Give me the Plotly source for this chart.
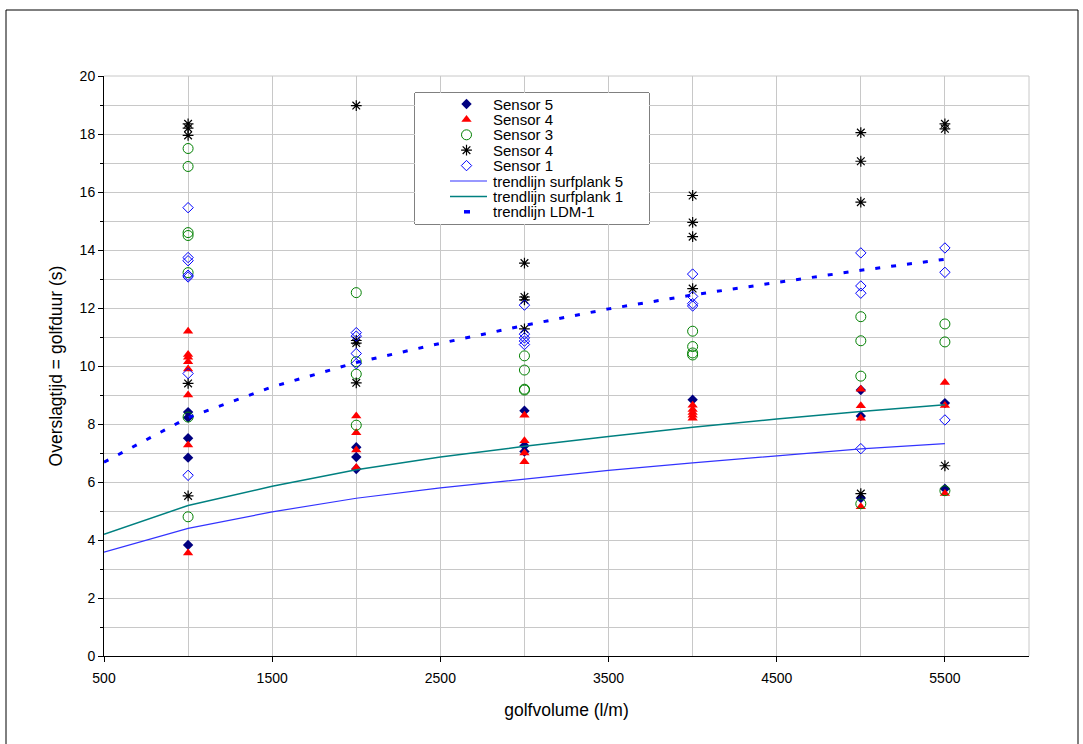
import plotly.graph_objects as go

# Measured overtopping durations per sensor (golfvolume in l/m, duration in s)
s5_x = [1000, 1000, 1000, 1000, 1000, 2000, 2000, 2000, 3000, 3000, 3000, 4000, 5000, 5000, 5000, 5500, 5500]
s5_y = [8.41, 8.22, 7.51, 6.84, 3.83, 7.20, 6.86, 6.45, 8.46, 7.25, 7.05, 8.84, 9.17, 8.28, 5.45, 8.72, 5.77]

s4_x = [1000, 1000, 1000, 1000, 1000, 1000, 1000, 1000, 2000, 2000, 2000, 2000, 3000, 3000, 3000, 3000,
        4000, 4000, 4000, 4000, 4000, 5000, 5000, 5000, 5000, 5500, 5500, 5500]
s4_y = [11.20, 10.40, 10.30, 10.15, 9.90, 9.00, 7.28, 3.55, 8.28, 7.70, 7.10, 6.50, 8.30, 7.42, 7.00, 6.70,
        8.65, 8.50, 8.40, 8.30, 8.20, 9.20, 8.63, 8.20, 5.15, 9.43, 8.64, 5.60]

s3_x = [1000, 1000, 1000, 1000, 1000, 1000, 1000, 2000, 2000, 2000, 2000, 3000, 3000, 3000, 3000,
        4000, 4000, 4000, 4000, 5000, 5000, 5000, 5000, 5500, 5500, 5500]
s3_y = [17.50, 16.88, 14.60, 14.50, 13.22, 8.24, 4.80, 12.53, 10.15, 9.72, 7.96, 10.35, 9.86, 9.20, 9.17,
        11.20, 10.67, 10.45, 10.38, 11.70, 10.87, 9.65, 5.25, 11.45, 10.83, 5.70]

s4b_x = [1000, 1000, 1000, 1000, 1000, 2000, 2000, 2000, 2000, 3000, 3000, 3000, 3000,
         4000, 4000, 4000, 4000, 5000, 5000, 5000, 5000, 5500, 5500, 5500]
s4b_y = [18.35, 18.20, 17.95, 9.40, 5.52, 18.98, 10.88, 10.79, 9.42, 13.55, 12.38, 12.28, 11.28,
         15.88, 14.95, 14.46, 12.67, 18.05, 17.06, 15.65, 5.60, 18.35, 18.18, 6.56]

s1_x = [1000, 1000, 1000, 1000, 1000, 1000, 1000, 2000, 2000, 2000, 2000, 3000, 3000, 3000, 3000, 3000,
        4000, 4000, 4000, 4000, 5000, 5000, 5000, 5000, 5500, 5500, 5500]
s1_y = [15.46, 13.74, 13.63, 13.13, 13.07, 9.74, 6.23, 11.15, 11.03, 10.43, 10.08, 12.10, 11.10, 10.97, 10.86, 10.74,
        13.17, 12.40, 12.15, 12.07, 13.90, 12.76, 12.51, 7.15, 14.07, 13.23, 8.14]

# Trend lines
trend_x = [500, 1000, 1500, 2000, 2500, 3000, 3500, 4000, 4500, 5000, 5500]
trend_sp5 = [3.58, 4.40, 4.97, 5.44, 5.80, 6.09, 6.40, 6.66, 6.90, 7.14, 7.32]
trend_sp1 = [4.20, 5.19, 5.85, 6.42, 6.86, 7.23, 7.57, 7.89, 8.17, 8.43, 8.66]
trend_ldm = [6.68, 8.22, 9.28, 10.12, 10.78, 11.40, 11.97, 12.45, 12.88, 13.30, 13.68]

x_ticks = [500, 1500, 2500, 3500, 4500, 5500]
y_ticks = [0, 2, 4, 6, 8, 10, 12, 14, 16, 18, 20]

FONT = "Liberation Sans, Arial, sans-serif"

styles = {
    "s5": dict(mode="markers", marker=dict(symbol="diamond", size=8, color="#000080")),
    "s4": dict(mode="markers", marker=dict(symbol="triangle-up", size=9, color="#FF0000")),
    "s3": dict(mode="markers", marker=dict(symbol="circle-open", size=10, color="#008000", line=dict(width=1))),
    "s4b": dict(mode="markers", marker=dict(symbol="asterisk-open", size=9, color="#000000",
                                           line=dict(width=1.2, color="#000000"))),
    "s1": dict(mode="markers", marker=dict(symbol="diamond-open", size=8, color="#0000FF", line=dict(width=1))),
    "sp5": dict(mode="lines", line=dict(color="#3333FF", width=1.2)),
    "sp1": dict(mode="lines", line=dict(color="#008080", width=1.5)),
    "ldm": dict(mode="lines", line=dict(color="#0000FF", width=3, dash="5px,11px")),
}

series = [
    ("s5", "Sensor 5", s5_x, s5_y),
    ("s4", "Sensor 4", s4_x, s4_y),
    ("s3", "Sensor 3", s3_x, s3_y),
    ("s4b", "Sensor 4", s4b_x, s4b_y),
    ("s1", "Sensor 1", s1_x, s1_y),
    ("sp5", "trendlijn surfplank 5", trend_x, trend_sp5),
    ("sp1", "trendlijn surfplank 1", trend_x, trend_sp1),
    ("ldm", "trendlijn LDM-1", trend_x, trend_ldm),
]

fig = go.Figure()
for key, name, xs, ys in series:
    fig.add_trace(go.Scatter(x=xs, y=ys, name=name, showlegend=False, **styles[key]))

# Legend box drawn on its own small pixel-scaled axes (x: px from box left, y: px from box top)
PLOT_L, PLOT_W, PLOT_B, PLOT_H = 104, 925, 656, 580
BOX_L, BOX_R, BOX_T, BOX_B = 415, 649, 93, 224
box_w, box_h = BOX_R - BOX_L, BOX_B - BOX_T
row_y = [11 + 15.4 * i for i in range(len(series))]
key_x, line_x0, line_x1, text_x = 51.5, 35, 72, 76

fig.add_shape(type="rect", xref="paper", yref="paper",
              x0=(BOX_L - PLOT_L) / PLOT_W, x1=(BOX_R - PLOT_L) / PLOT_W,
              y0=(PLOT_B - BOX_B) / PLOT_H, y1=(PLOT_B - BOX_T) / PLOT_H,
              line=dict(color="black", width=1), fillcolor="white", layer="between")

for (key, name, _, _), ry in zip(series, row_y):
    st = styles[key]
    if key == "ldm":
        kx, ky = [49, 55], [ry, ry]
        st = dict(mode="lines", line=dict(color="#0000FF", width=3.5))
    elif st["mode"] == "lines":
        kx, ky = [line_x0, line_x1], [ry, ry]
    else:
        kx, ky = [key_x], [ry]
    fig.add_trace(go.Scatter(x=kx, y=ky, xaxis="x2", yaxis="y2", showlegend=False,
                             hoverinfo="skip", **st))
    fig.add_annotation(x=text_x, y=ry, xref="x2", yref="y2", text=name, showarrow=False,
                       xanchor="left", yanchor="middle",
                       font=dict(family=FONT, size=15, color="black"))

grid = "#C8C8C8"
fig.update_layout(
    xaxis=dict(range=[500, 6000], tickvals=x_ticks, ticks="outside", ticklen=5, tickcolor="black",
               showline=True, linecolor="black", linewidth=1, ticklabelstandoff=4,
               showgrid=True, gridcolor=grid, gridwidth=1, zeroline=False,
               minor=dict(dtick=500, tick0=500, showgrid=True, gridcolor=grid, ticks=""),
               tickfont=dict(family=FONT, size=14, color="black"),
               title=dict(text="golfvolume (l/m)", font=dict(family=FONT, size=17.5, color="black"), standoff=18)),
    yaxis=dict(range=[0, 20], tickvals=y_ticks, ticks="outside", ticklen=5, tickcolor="black",
               showline=True, linecolor="black", linewidth=1,
               showgrid=True, gridcolor=grid, gridwidth=1, zeroline=False,
               minor=dict(dtick=1, tick0=0, showgrid=True, gridcolor=grid, ticks="outside", ticklen=3,
                          tickcolor="black"),
               tickfont=dict(family=FONT, size=14, color="black"),
               title=dict(text="Overslagtijd = golfduur (s)", font=dict(family=FONT, size=17.5, color="black"),
                          standoff=12)),
    xaxis2=dict(domain=[(BOX_L - PLOT_L) / PLOT_W, (BOX_R - PLOT_L) / PLOT_W], range=[0, box_w],
                anchor="y2", visible=False, fixedrange=True),
    yaxis2=dict(domain=[(PLOT_B - BOX_B) / PLOT_H, (PLOT_B - BOX_T) / PLOT_H], range=[box_h, 0],
                anchor="x2", visible=False, fixedrange=True),
)

# Plot-area frame on the top and right, and the outer chart border
fig.add_shape(type="line", xref="paper", yref="paper", x0=0, x1=1, y0=1, y1=1, line=dict(color=grid, width=1))
fig.add_shape(type="line", xref="paper", yref="paper", x0=1, x1=1, y0=0, y1=1, line=dict(color=grid, width=1))
fig.add_shape(type="rect", xref="paper", yref="paper",
              x0=(6 - PLOT_L) / PLOT_W, x1=(1078 - PLOT_L) / PLOT_W,
              y0=(PLOT_B - 760) / PLOT_H, y1=(PLOT_B - 10) / PLOT_H,
              line=dict(color="black", width=1), fillcolor="rgba(0,0,0,0)", layer="below")

fig.update_layout(
    width=1083, height=744,
    margin=dict(l=104, r=54, t=76, b=88),
    paper_bgcolor="white", plot_bgcolor="white",
    font=dict(family=FONT, size=12, color="black"),
    showlegend=False,
)

fig.write_html("out.html")
